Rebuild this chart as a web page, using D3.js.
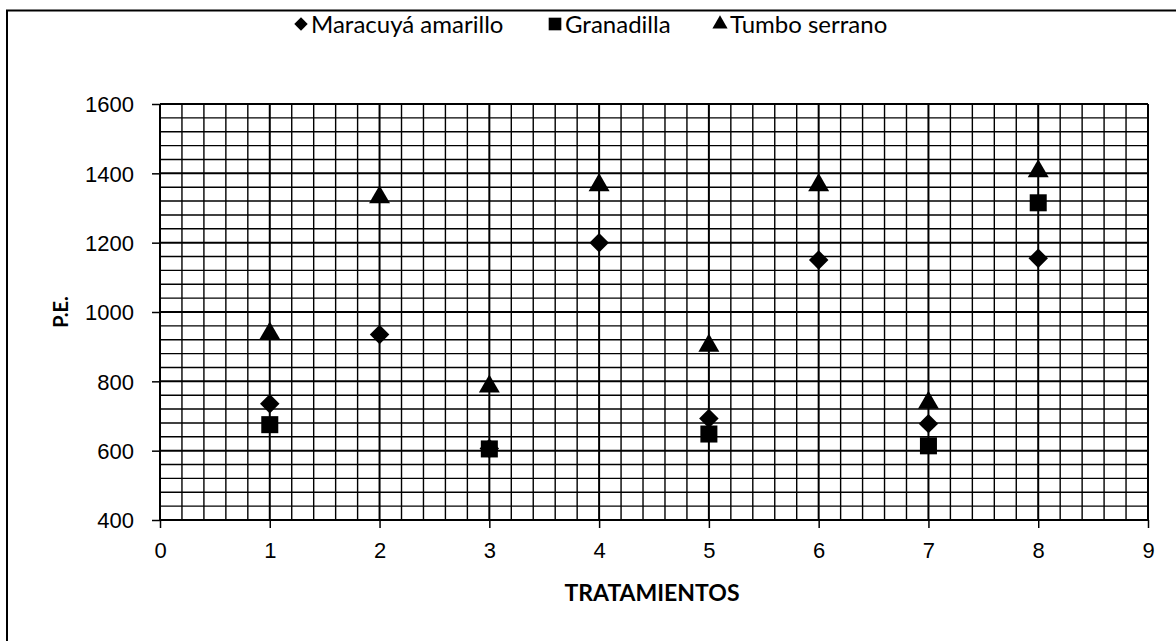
<!DOCTYPE html>
<html>
<head>
<meta charset="utf-8">
<script src="https://cdn.jsdelivr.net/npm/d3@7"></script>
<style>
  body { margin: 0; background: #fff; }
  svg { display: block; font-family: Lato, "Open Sans", sans-serif; }
  .grid line { stroke: #000; }
  .ax text { font-size: 22px; fill: #000; }
  .ax path { display: none; }
  .ax line { stroke: #000; stroke-width: 1.5; }
</style>
</head>
<body>
<svg id="chart" width="1176" height="641"></svg>
<script>
// treatments on the x axis
var tratamientos = [1, 2, 3, 4, 5, 6, 7, 8]
// P.E. values per species (null = not shown)
var maracuya = [735, 935, 606, 1200, 693, 1150, 678, 1155]
var granadilla = [675, null, 605, null, 648, null, 614, 1315]
var tumbo = [938, 1331, 785, 1366, 903, 1366, 738, 1406]

var xTicks = [0, 1, 2, 3, 4, 5, 6, 7, 8, 9]
var yTicks = [400, 600, 800, 1000, 1200, 1400, 1600]

// diamond = square turned 45 degrees, as in the scan
var series = [
  {name: 'Maracuyá amarillo', values: maracuya, shape: d3.symbolSquare, size: 190, rot: 45, lsize: 90},
  {name: 'Granadilla', values: granadilla, shape: d3.symbolSquare, size: 290, rot: 0, lsize: 160},
  {name: 'Tumbo serrano', values: tumbo, shape: d3.symbolTriangle, size: 190, rot: 0, lsize: 100}
]

var svg = d3.select('#chart')
var margin = {top: 104, left: 160, right: 28, bottom: 121}
var w = 1176 - margin.left - margin.right
var h = 641 - margin.top - margin.bottom

// outer frame (left and top edges show in the scan)
svg.append('path')
    .attr('d', 'M7,641V10.5H1176')
    .attr('fill', 'none')
    .attr('stroke', '#000')
    .attr('stroke-width', 2)

var g = svg.append('g')
    .attr('transform', `translate(${margin.left},${margin.top})`)

var x = d3.scaleLinear().domain([0, 9]).range([0, w])
var y = d3.scaleLinear().domain([400, 1600]).range([h, 0])

/*
    --------------------------------------
    Grid: minor every 0.2 / 40, major at ticks
*/
var grid = g.append('g').classed('grid', true)
var minorX = d3.range(0, 45).map(d => d / 5).filter((d, i) => i % 5 !== 0)
var minorY = d3.range(400, 1600, 40).filter(d => d % 200 !== 0)

grid.selectAll('.mx').data(minorX).enter().append('line')
    .attr('x1', d => x(d)).attr('x2', d => x(d))
    .attr('y1', 0).attr('y2', h)
    .attr('stroke-width', 1.4)
grid.selectAll('.my').data(minorY).enter().append('line')
    .attr('y1', d => y(d)).attr('y2', d => y(d))
    .attr('x1', 0).attr('x2', w)
    .attr('stroke-width', 1.4)
grid.selectAll('.Mx').data(xTicks).enter().append('line')
    .attr('x1', d => x(d)).attr('x2', d => x(d))
    .attr('y1', 0).attr('y2', h)
    .attr('stroke-width', 2)
grid.selectAll('.My').data(yTicks).enter().append('line')
    .attr('y1', d => y(d)).attr('y2', d => y(d))
    .attr('x1', 0).attr('x2', w)
    .attr('stroke-width', 2)

/*
    --------------------------------------
    Axes
*/
g.append('g').classed('ax x', true)
    .attr('transform', `translate(0,${h})`)
    .call(d3.axisBottom(x).tickValues(xTicks).tickSize(8).tickPadding(14).tickFormat(d3.format('d')))

g.append('g').classed('ax y', true)
    .call(d3.axisLeft(y).tickValues(yTicks).tickSize(8).tickPadding(18).tickFormat(d3.format('d')))

g.select('.ax.y').selectAll('text').attr('dy', '0.36em')

/*
    --------------------------------------
    Markers
*/
series.forEach(function (s) {
  var pts = tratamientos.map((t, i) => ({t: t, v: s.values[i]})).filter(d => d.v != null)
  g.append('g').selectAll('path').data(pts).enter().append('path')
      .attr('d', d3.symbol().type(s.shape).size(s.size))
      .attr('transform', d => `translate(${x(d.t)},${y(d.v)}) rotate(${s.rot})`)
      .attr('fill', '#000')
})

/*
    --------------------------------------
    Labels and legend
*/
svg.append('text')
    .attr('transform', `translate(68,${margin.top + h / 2}) rotate(-90)`)
    .attr('text-anchor', 'middle')
    .style('font-size', '20px').style('font-weight', 'bold')
    .text('P.E.')

svg.append('text')
    .attr('x', margin.left + w / 2 - 2).attr('y', 601)
    .attr('text-anchor', 'middle')
    .style('font-size', '23px').style('font-weight', 'bold')
    .text('TRATAMIENTOS')

var legendX = [301, 555, 720]
var legend = svg.append('g').selectAll('g').data(series).enter().append('g')
    .attr('transform', (d, i) => `translate(${legendX[i]},24)`)
legend.append('path')
    .attr('d', d => d3.symbol().type(d.shape).size(d.lsize)())
    .attr('transform', d => `rotate(${d.rot})`)
    .attr('fill', '#000')
legend.append('text')
    .attr('x', 10).attr('dy', '0.36em')
    .style('font-size', '24px')
    .text(d => d.name)
</script>
</body>
</html>
